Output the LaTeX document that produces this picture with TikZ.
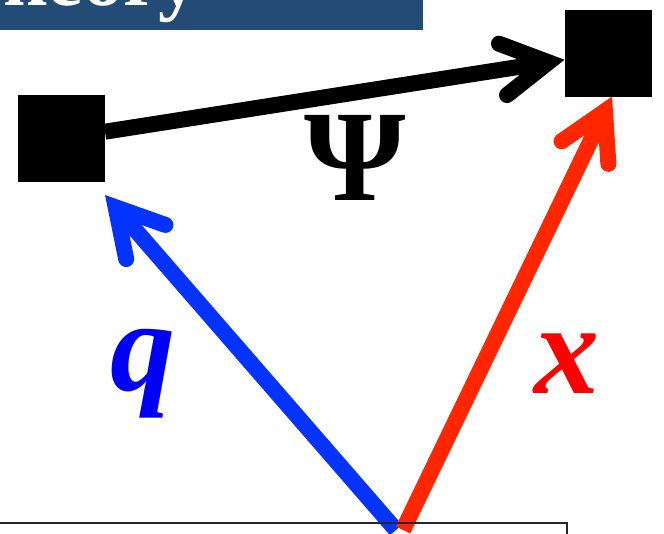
\documentclass[tikz,border=0pt]{standalone}
\usepackage{fontspec}
\setmainfont{Liberation Serif}
\usetikzlibrary{arrows.meta,calc}
\definecolor{banner}{HTML}{244A76}
\definecolor{qblue}{HTML}{0433FF}
\definecolor{xred}{HTML}{FF2600}
\definecolor{qlab}{HTML}{0000F5}
\definecolor{xlab}{HTML}{FF0000}
\begin{document}
\begin{tikzpicture}[x=1pt,y=-1pt,
  sq/.style={fill=black, minimum size=87pt, inner sep=0pt, outer sep=0pt},
  vec/.style={line width=16pt, -{Straight Barb[length=46pt,width=52pt,line cap=round,line join=miter]}},
  lab/.style={inner sep=0pt, outer sep=0pt}]
\useasboundingbox (0,0) rectangle (664,533);
\begin{scope}
\clip (0,0) rectangle (664,533);
\fill[banner] (0,0) rectangle (423,30);
\node[anchor=base east, text=white, font=\fontsize{80}{80}\selectfont\bfseries, inner sep=0pt] (title) at (199,5) {Theory};
\node[sq] (L) at (61.5,138.5) {};
\node[sq] (R) at (608,53) {};
\coordinate (qtip) at ($(L.south east)+(0,13)$);
\coordinate (xtip) at ($(R.south)+(4,0)$);
\coordinate (qstart) at (396,530);
\coordinate (xstart) at (403,530);
\draw[vec, black] (L) -- (R);
\draw[vec, qblue] (qstart) -- (qtip);
\draw[vec, xred] (xstart) -- (xtip);
\node[lab, anchor=base, font=\fontsize{130}{130}\selectfont\bfseries] (psi) at (355,200) {Ψ};
\node[lab, anchor=base, text=qlab, font=\fontsize{130}{130}\selectfont\bfseries\itshape] (q) at (143,390) {q};
\node[lab, anchor=base, text=xlab, font=\fontsize{130}{130}\selectfont\bfseries\itshape] (x) at (567,393) {x};
\draw[black!85, line width=1.5pt] (-5,523) rectangle (567,560);
\end{scope}
\end{tikzpicture}
\end{document}
